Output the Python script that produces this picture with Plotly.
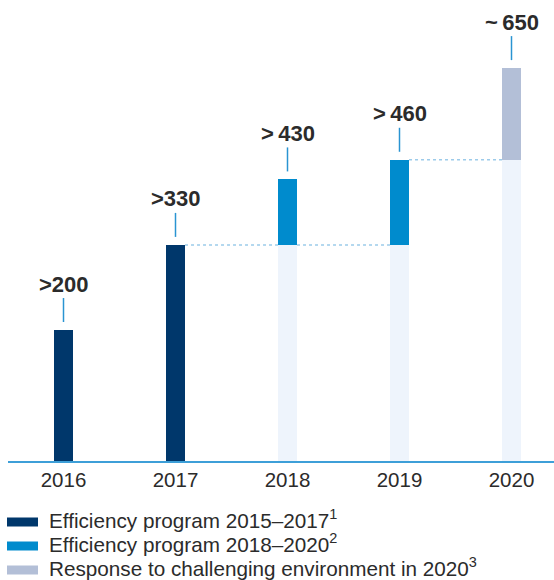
import plotly.graph_objects as go

years = ["2016", "2017", "2018", "2019", "2020"]
# stacked segments as drawn (units of the value axis)
prog_2015_2017 = [200, 330, 0, 0, 0]
carried_base = [0, 0, 330, 330, 460]
prog_2018_2020 = [0, 0, 100, 130, 0]
response_2020 = [0, 0, 0, 0, 140]
value_labels = [">200", ">330", ">\u2009430", ">\u2009460", "~\u2009650"]
legend_labels = [
    "Efficiency program 2015\u20132017<sup>1</sup>",
    "Efficiency program 2018\u20132020<sup>2</sup>",
    "Response to challenging environment in 2020<sup>3</sup>",
]

NAVY = "#00376b"
BLUE = "#008bcd"
GREY = "#b3bfd7"
PALE = "#eef4fc"
LINE = "#3d9fd8"
TEXT = "#2b2b2b"

x = list(range(len(years)))
totals = [a + b + c + d for a, b, c, d in zip(prog_2015_2017, carried_base, prog_2018_2020, response_2020)]
bw = 0.17

fig = go.Figure()
fig.add_bar(x=x, y=prog_2015_2017, marker_color=NAVY, width=bw, name=legend_labels[0])
fig.add_bar(x=x, y=carried_base, marker_color=PALE, width=bw, name="base")
fig.add_bar(x=x, y=prog_2018_2020, marker_color=BLUE, width=bw, name=legend_labels[1])
fig.add_bar(x=x, y=response_2020, marker_color=GREY, width=bw, name=legend_labels[2])
fig.update_traces(marker_line_width=0, showlegend=False, hoverinfo="skip")

# dotted connectors at the carried-over level
for i in range(len(years) - 1):
    lvl = carried_base[i + 1]
    if lvl > 0:
        fig.add_trace(go.Scatter(
            x=[i + bw / 2, i + 1 - bw / 2], y=[lvl, lvl], mode="lines",
            line=dict(color="#9ccbea", width=1.5, dash="dot"),
            showlegend=False, hoverinfo="skip"))

# value labels and leader lines
for i, (t, lab) in enumerate(zip(totals, value_labels)):
    fig.add_shape(type="line", xref="x", yref="y", x0=i, x1=i,
                  ysizemode="pixel", yanchor=t, y0=8, y1=32,
                  line=dict(color="#2a94d2", width=1.5))
    fig.add_annotation(x=i, y=t, text=f"<b>{lab}</b>", showarrow=False,
                       yanchor="middle", yshift=46,
                       font=dict(family="Liberation Sans, Arial", size=22, color=TEXT))

# legend (manual)
leg_colors = [NAVY, BLUE, GREY]
for k, (lab, col) in enumerate(zip(legend_labels, leg_colors)):
    yc = 522 + 24 * k
    fig.add_shape(type="rect", xref="paper", yref="paper",
                  x0=(7 - 8) / 546, x1=(38 - 8) / 546,
                  y0=(461 - (yc - 4.5)) / 461, y1=(461 - (yc + 4.5)) / 461,
                  fillcolor=col, line_width=0)
    fig.add_annotation(xref="paper", yref="paper", x=(47 - 8) / 546,
                       y=(461 - yc) / 461, text=lab, showarrow=False,
                       xanchor="left", yanchor="middle", yshift=3,
                       font=dict(family="Liberation Sans, Arial", size=20.7, color=TEXT))

fig.update_layout(
    width=554, height=580, barmode="stack", bargap=0,
    margin=dict(l=8, r=0, t=0, b=119),
    plot_bgcolor="white", paper_bgcolor="white",
    font=dict(family="Liberation Sans, Arial", color=TEXT),
    xaxis=dict(range=[-0.4955, 4.3795], tickvals=x, ticktext=years,
               showgrid=False, zeroline=False, showline=True,
               linecolor=LINE, linewidth=1.5, ticks="",
               tickfont=dict(size=20.5, color=TEXT), fixedrange=True),
    yaxis=dict(range=[0, 704], visible=False, fixedrange=True),
)
fig.write_html("out.html")
